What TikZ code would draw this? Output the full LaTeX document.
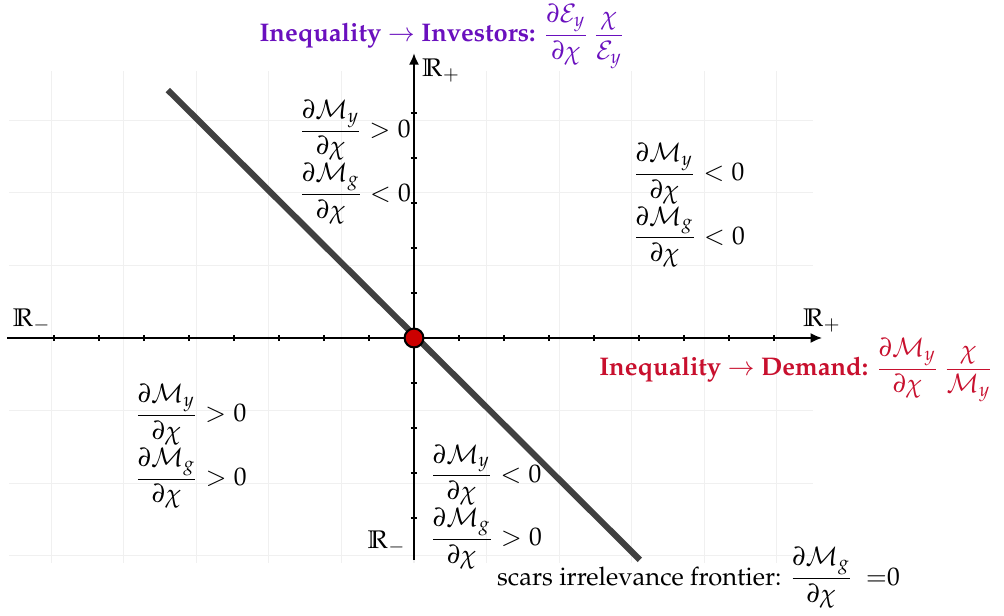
\documentclass[tikz,border=0pt]{standalone}
\usepackage[T1]{fontenc}
\usepackage{mathpazo}
\usepackage{amsmath, amssymb}
\usepackage{xcolor}
\usepackage{tikz}
\usetikzlibrary{arrows.meta, positioning}

\definecolor{demandred}{RGB}{200,16,46}
\definecolor{investpurple}{RGB}{106,16,190}

\begin{document}
\begin{tikzpicture}[
  x=0.62cm, y=0.62cm,
  axis/.style={-{Latex[length=1.6mm, width=1.4mm]}, line width=0.8pt},
  tick/.style={line width=0.8pt},
  frontier/.style={line width=2.4pt, black!75},
  quad/.style={align=left, inner sep=1pt},
  origin/.style={circle, draw, fill=red!80!black, line width=0.8pt, minimum size=2.6mm, inner sep=0pt},
  title/.style={anchor=west, inner sep=1pt}
]
\useasboundingbox (-9.2,-6.156) rectangle (13.111,7.511);

% grid and axes
\draw[black!6, line width=0.4pt] (-9,-5) grid (8.87,5.93);
\coordinate (xl) at (-9.04,0);
\coordinate (xr) at (9.07,0);
\coordinate (yb) at (0,-4.93);
\coordinate (yt) at (0,6.33);
\draw[axis] (xl) -- (xr);
\draw[axis] (yb) -- (yt);
\foreach \i in {-8,...,8} \draw[tick] (\i,-0.07) -- (\i,0.07);
\foreach \j in {-4,...,5} \draw[tick] (-0.07,\j) -- (0.07,\j);

\node[above right=0pt and 0pt of xl, inner sep=2pt] (rmx) {$\mathbb{R}_-$};
\node[above=0pt of xr, inner sep=2pt] (rpx) {$\mathbb{R}_+$};
\node[below right=0pt and 1pt of yt, inner sep=2pt] (rpy) {$\mathbb{R}_+$};
\node[above left=0pt and 1pt of yb, inner sep=2pt] (rmy) {$\mathbb{R}_-$};

% frontier
\coordinate (fa) at (-5.47,5.51);
\coordinate (fb) at (5.02,-4.93);
\draw[frontier] (fa) -- (fb);
\node[origin] (o) at (0,0) {};

% quadrants
\node[quad] (ul) at (-1.31,3.91) {$\dfrac{\partial\mathcal{M}_y}{\partial\chi}>0$\\$\dfrac{\partial\mathcal{M}_g}{\partial\chi}<0$};
\node[quad] (ur) at (6.11,2.95) {$\dfrac{\partial\mathcal{M}_y}{\partial\chi}<0$\\$\dfrac{\partial\mathcal{M}_g}{\partial\chi}<0$};
\node[quad] (ll) at (-4.96,-2.41) {$\dfrac{\partial\mathcal{M}_y}{\partial\chi}>0$\\$\dfrac{\partial\mathcal{M}_g}{\partial\chi}>0$};
\node[quad] (lr) at (1.6,-3.75) {$\dfrac{\partial\mathcal{M}_y}{\partial\chi}<0$\\$\dfrac{\partial\mathcal{M}_g}{\partial\chi}>0$};

% titles
\node[title, text=investpurple] (inv) at (-3.5,6.7) {\textbf{Inequality $\rightarrow$ Investors:} $\dfrac{\partial\mathcal{E}_y}{\partial\chi}\,\dfrac{\chi}{\mathcal{E}_y}$};
\node[title, text=demandred] (dem) at (4.05,-0.71) {\textbf{Inequality $\rightarrow$ Demand:} $\dfrac{\partial\mathcal{M}_y}{\partial\chi}\,\dfrac{\chi}{\mathcal{M}_y}$};
\node[title] (scar) at (1.78,-5.33) {scars irrelevance frontier: $\dfrac{\partial\mathcal{M}_g}{\partial\chi}\enspace{=}0$};
\end{tikzpicture}
\end{document}
